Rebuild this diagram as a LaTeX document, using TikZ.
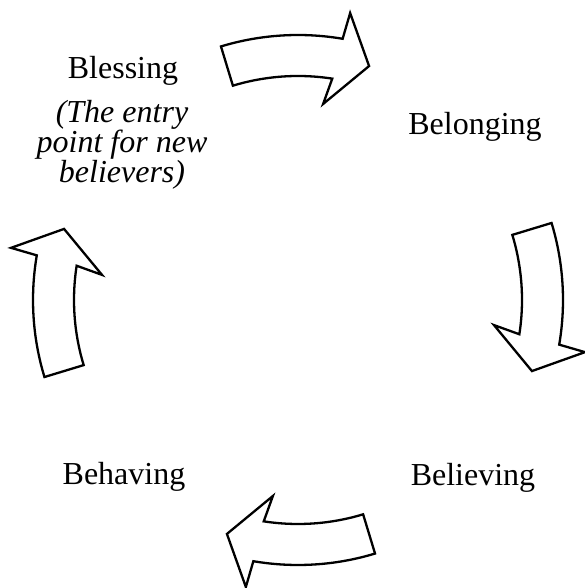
\documentclass[tikz,border=0pt]{standalone}
\usepackage{fontspec}
\setmainfont{Liberation Serif}
\begin{document}
\begin{tikzpicture}[x=1pt,y=1pt,
  cyclearrow/.style={draw=black,line width=2.3pt,fill=white,line join=miter,miter limit=10},
  stagetext/.style={font=\fontsize{32}{38}\selectfont,anchor=base,inner sep=0pt},
  notetext/.style={font=\fontsize{32}{38}\selectfont\itshape,anchor=base,inner sep=0pt}]
\useasboundingbox (0,0) rectangle (584,588);
\coordinate (c) at (298,288);
\foreach \r in {0,-90,-180,-270}{
  \begin{scope}[shift={(c)},rotate=\r]
   \draw[cyclearrow] (106.9:265) arc[start angle=106.9,end angle=80.3,radius=265]
     -- (79.7:291.7) -- (73.1:244.5) -- (82.7:197.6) -- (81.2:224)
     arc[start angle=81.2,end angle=106.9,radius=224] -- cycle;
  \end{scope}
}
\node[stagetext] (blessing) at (123,509) {Blessing};
\node[notetext] (entry1) at (122,465) {(The entry};
\node[notetext] (entry2) at (122,435) {point for new};
\node[notetext] (entry3) at (122,405) {believers)};
\node[stagetext] (belonging) at (475,453) {Belonging};
\node[stagetext] (behaving) at (124,103) {Behaving};
\node[stagetext] (believing) at (473,102) {Believing};
\end{tikzpicture}
\end{document}
